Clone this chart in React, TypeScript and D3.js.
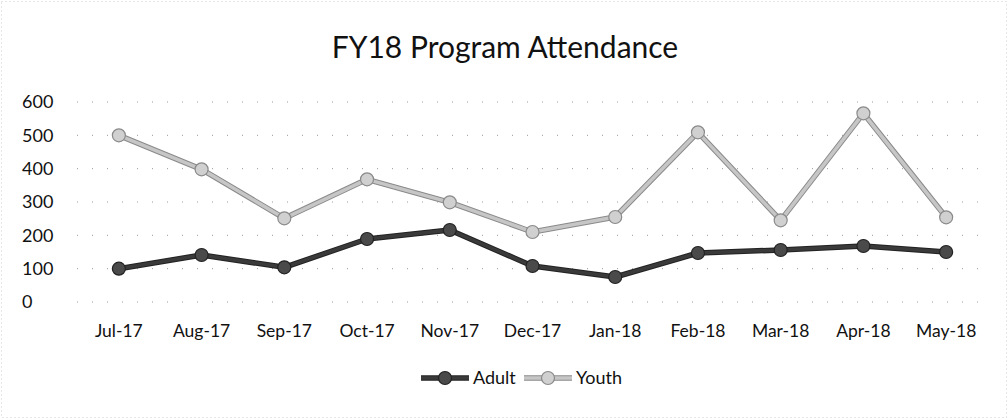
import React, { useRef, useEffect } from 'react';
import * as d3 from 'd3';

const months = ['Jul-17', 'Aug-17', 'Sep-17', 'Oct-17', 'Nov-17', 'Dec-17', 'Jan-18', 'Feb-18', 'Mar-18', 'Apr-18', 'May-18'];
const adult = [100, 141, 104, 189, 216, 108, 75, 147, 156, 168, 150];
const youth = [500, 398, 251, 368, 299, 210, 255, 509, 245, 566, 254];
const yTicks = [0, 100, 200, 300, 400, 500, 600];

const W = 1008;
const H = 419;
const FONT = 'Lato, "Open Sans", sans-serif';

const App = () => {
  const ref = useRef<SVGSVGElement>(null);

  useEffect(() => {
    const svg = d3.select(ref.current);
    svg.selectAll('*').remove();

    svg.append('rect').attr('x', 1.5).attr('y', 1.5).attr('width', W - 3).attr('height', H - 3)
      .attr('fill', '#fff').attr('stroke', '#ccc').attr('stroke-dasharray', '1,3');

    const x = d3.scalePoint<string>().domain(months).range([77.5, 987.5]).padding(0.5);
    const y = d3.scaleLinear().domain([0, 600]).range([302, 102]);

    svg.append('text')
      .attr('x', 505).attr('y', 58).attr('text-anchor', 'middle')
      .attr('font-family', FONT).attr('font-size', 30).attr('fill', '#111')
      .text('FY18 Program Attendance');

    // gridlines
    svg.append('g').selectAll('line').data(yTicks).join('line')
      .attr('x1', 77).attr('x2', 988)
      .attr('y1', d => y(d)).attr('y2', d => y(d))
      .attr('stroke', '#999').attr('stroke-width', 1).attr('stroke-dasharray', '1,14');

    // y labels
    svg.append('g').selectAll('text').data(yTicks).join('text')
      .attr('x', 22).attr('y', d => y(d)).attr('dy', '0.35em')
      .attr('font-family', FONT).attr('font-size', 18).attr('fill', '#111')
      .text(d => d);

    // x labels
    svg.append('g').selectAll('text').data(months).join('text')
      .attr('x', d => x(d)!).attr('y', 337).attr('text-anchor', 'middle')
      .attr('font-family', FONT).attr('font-size', 17.5).attr('fill', '#111')
      .text(d => d);

    const line = d3.line<number>()
      .x((_, i) => x(months[i])!)
      .y(d => y(d));

    const series = [
      { name: 'Youth', values: youth, stroke: '#c6c6c6', edge: '#8a8a8a', fill: '#d0d0d0' },
      { name: 'Adult', values: adult, stroke: '#3a3a3a', edge: '#222', fill: '#4a4a4a' },
    ];

    series.forEach(s => {
      svg.append('path').datum(s.values)
        .attr('fill', 'none').attr('stroke', s.edge).attr('stroke-width', 5.5)
        .attr('stroke-linejoin', 'round').attr('d', line);
      svg.append('path').datum(s.values)
        .attr('fill', 'none').attr('stroke', s.stroke).attr('stroke-width', 3.5)
        .attr('stroke-linejoin', 'round').attr('d', line);
      svg.append('g').selectAll('circle').data(s.values).join('circle')
        .attr('cx', (_, i) => x(months[i])!).attr('cy', d => y(d)).attr('r', 6.5)
        .attr('fill', s.fill).attr('stroke', s.edge).attr('stroke-width', 1.2);
    });

    // legend
    const legend = [
      { name: 'Adult', x0: 421, stroke: '#3a3a3a', edge: '#222', fill: '#4a4a4a' },
      { name: 'Youth', x0: 524, stroke: '#c6c6c6', edge: '#8a8a8a', fill: '#d0d0d0' },
    ];
    const ly = 378;
    legend.forEach(l => {
      svg.append('line').attr('x1', l.x0).attr('x2', l.x0 + 48).attr('y1', ly).attr('y2', ly)
        .attr('stroke', l.edge).attr('stroke-width', 5.5);
      svg.append('line').attr('x1', l.x0).attr('x2', l.x0 + 48).attr('y1', ly).attr('y2', ly)
        .attr('stroke', l.stroke).attr('stroke-width', 3.5);
      svg.append('circle').attr('cx', l.x0 + 24).attr('cy', ly).attr('r', 6.5)
        .attr('fill', l.fill).attr('stroke', l.edge).attr('stroke-width', 1.2);
      svg.append('text').attr('x', l.x0 + 52).attr('y', ly).attr('dy', '0.35em')
        .attr('font-family', FONT).attr('font-size', 18).attr('fill', '#111')
        .text(l.name);
    });
  }, []);

  return (
    <div style={{ position: 'absolute', left: 0, top: 0 }}>
      <svg ref={ref} width={W} height={H} style={{ display: 'block' }}></svg>
    </div>
  );
};

export default App;
